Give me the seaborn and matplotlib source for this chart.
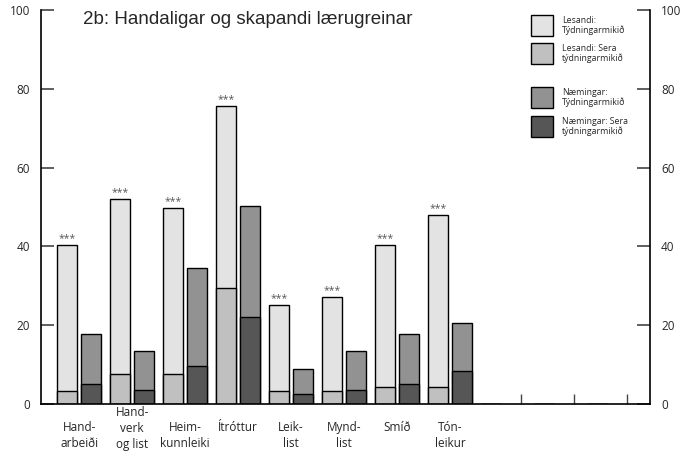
import numpy as np
import pandas as pd
import seaborn as sns
import matplotlib.pyplot as plt
from matplotlib.patches import Rectangle
from matplotlib.transforms import ScaledTranslation

# categories (three empty slots at the end of the chart)
cat_keys = ["c1", "c2", "c3", "c4", "c5", "c6", "c7", "c8", "c9", "c10", "c11"]
cat_labels = ["Hand-\narbeiði", "Hand-\nverk\nog list", "Heim-\nkunnleiki", "Ítróttur",
              "Leik-\nlist", "Mynd-\nlist", "Smíð", "Tón-\nleikur", "", "", ""]

# percentages
lesandi_sera = [3.4, 7.7, 7.7, 29.4, 3.4, 3.4, 4.4, 4.2, 0, 0, 0]
lesandi_tydn = [37.0, 44.4, 42.0, 46.2, 21.8, 23.7, 35.9, 43.8, 0, 0, 0]
naemingar_sera = [5.2, 3.5, 9.6, 22.1, 2.5, 3.5, 5.2, 8.5, np.nan, np.nan, np.nan]
naemingar_tydn = [12.6, 9.9, 24.8, 28.1, 6.3, 9.9, 12.6, 12.1, np.nan, np.nan, np.nan]
signif = ["***", "***", "***", "***", "***", "***", "***", "***", "", "", ""]

groups = ["Lesandi", "Næmingar"]
legend_labels = ["Lesandi:\nTýdningarmikið", "Lesandi: Sera\ntýdningarmikið",
                 "Næmingar:\nTýdningarmikið", "Næmingar: Sera\ntýdningarmikið"]
col_l_tydn, col_l_sera = "#e3e3e4", "#c0c0c0"
col_n_tydn, col_n_sera = "#929292", "#565656"

df = pd.DataFrame({
    "cat": cat_keys * 2,
    "group": ["Lesandi"] * 11 + ["Næmingar"] * 11,
    "sera": lesandi_sera + naemingar_sera,
    "tydn": lesandi_tydn + naemingar_tydn,
})
df["total"] = df["sera"] + df["tydn"]

sns.set_style("white")
plt.rcParams["font.family"] = ["Open Sans", "DejaVu Sans"]

fig = plt.figure(figsize=(6.8, 4.53), dpi=100)
ax = fig.add_axes([41 / 680, 1 - 404 / 453, 609 / 680, 394 / 453])

bar_kw = dict(x="cat", order=cat_keys, hue="group", hue_order=groups, width=0.905, gap=0.167,
              edgecolor="black", linewidth=1, saturation=1, errorbar=None, legend=False, ax=ax)
sns.barplot(data=df, y="total", palette=[col_l_tydn, col_n_tydn], **bar_kw)
sns.barplot(data=df, y="sera", palette=[col_l_sera, col_n_sera], **bar_kw)

# stars over the lesandi bars
for bar, s in zip(ax.containers[0], signif):
    if s:
        ax.text(bar.get_x() + bar.get_width() / 2, bar.get_height() + 0.2, s,
                ha="center", va="bottom", fontsize=7.5, color="#555555")

ax.set_xlim(-0.72, 10.77)
ax.set_ylim(0, 100)
ax.set_yticks([0, 20, 40, 60, 80, 100])
ax.set_xlabel("")
ax.set_ylabel("")
ax.set_xticks(range(len(cat_keys)))
ax.set_xticklabels(cat_labels, fontsize=8.5, va="top", linespacing=1.3)
ax.tick_params(axis="x", which="major", length=0, pad=12)
# small category ticks in the empty part of the axis
ax.set_xticks([i + 0.33 for i, s in enumerate(signif) if not s], minor=True)
ax.tick_params(axis="x", which="minor", bottom=True, direction="in", length=7, width=1,
               color="#444444")
ax.tick_params(axis="y", direction="in", length=9.5, width=1.2, color="#444444",
               left=True, right=True, labelleft=True, labelright=True, labelsize=8.5, pad=8)

# three-line label starts one line higher
lbl = ax.get_xticklabels()[1]
lbl.set_transform(lbl.get_transform() + ScaledTranslation(0, 0.148, fig.dpi_scale_trans))

for side in ["left", "right", "bottom"]:
    ax.spines[side].set_visible(True)
    ax.spines[side].set_color("black")
    ax.spines[side].set_linewidth(1.2)
ax.spines["top"].set_visible(False)

fig.text(83 / 680, 1 - 20 / 453, "2b: Handaligar og skapandi lærugreinar",
         fontsize=13.5, va="center", ha="left", family=["Liberation Sans", "DejaVu Sans"])

# legend boxes
colors = [col_l_tydn, col_l_sera, col_n_tydn, col_n_sera]
box_tops = [15, 43, 87, 116]
for c, lab, top in zip(colors, legend_labels, box_tops):
    fig.patches.append(Rectangle((531 / 680, 1 - (top + 21) / 453), 22 / 680, 21 / 453,
                                 facecolor=c, edgecolor="black", linewidth=1,
                                 transform=fig.transFigure, figure=fig))
    fig.text(562 / 680, 1 - (top + 10.5) / 453, lab, fontsize=6.3, va="center", ha="left",
             linespacing=1.05)

fig.savefig("out.png", dpi=100)
